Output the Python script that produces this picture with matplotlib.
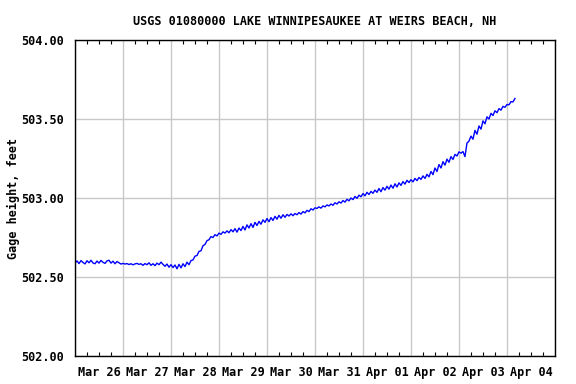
import numpy as np
import pandas as pd
import matplotlib
matplotlib.use("Agg")
import matplotlib.pyplot as plt
import matplotlib.dates as mdates
from matplotlib.ticker import FuncFormatter, MultipleLocator

# 1時間ごとのゲージ高さ (feet), Mar 26 00:00 から
mar26 = [502.588, 502.602, 502.585, 502.604, 502.592, 502.583, 502.603, 502.590,
         502.606, 502.589, 502.584, 502.601, 502.588, 502.605, 502.593, 502.586,
         502.602, 502.606, 502.588, 502.600, 502.584, 502.598, 502.590, 502.582]
mar27 = [502.586, 502.582, 502.585, 502.579, 502.584, 502.577, 502.583, 502.586,
         502.580, 502.584, 502.574, 502.585, 502.578, 502.590, 502.574, 502.584,
         502.572, 502.588, 502.578, 502.594, 502.580, 502.568, 502.582, 502.562]
mar28 = [502.578, 502.560, 502.576, 502.552, 502.580, 502.558, 502.584, 502.566,
         502.594, 502.578, 502.604, 502.608, 502.632, 502.636, 502.662, 502.666,
         502.698, 502.706, 502.730, 502.736, 502.756, 502.750, 502.768, 502.760]
mar29 = [502.778, 502.770, 502.786, 502.778, 502.792, 502.780, 502.800, 502.786,
         502.806, 502.784, 502.810, 502.794, 502.820, 502.798, 502.830, 502.810,
         502.838, 502.814, 502.846, 502.826, 502.852, 502.834, 502.862, 502.846]
mar30 = [502.870, 502.850, 502.876, 502.858, 502.884, 502.866, 502.890, 502.872,
         502.894, 502.878, 502.896, 502.886, 502.900, 502.888, 502.902, 502.894,
         502.908, 502.898, 502.914, 502.906, 502.922, 502.914, 502.932, 502.924]
mar31 = [502.938, 502.934, 502.944, 502.936, 502.950, 502.944, 502.956, 502.950,
         502.962, 502.954, 502.970, 502.962, 502.976, 502.968, 502.984, 502.974,
         502.992, 502.982, 503.000, 502.990, 503.010, 502.998, 503.018, 503.008]
apr01 = [503.028, 503.014, 503.036, 503.022, 503.042, 503.030, 503.050, 503.036,
         503.060, 503.040, 503.066, 503.050, 503.074, 503.056, 503.082, 503.062,
         503.090, 503.070, 503.096, 503.080, 503.104, 503.088, 503.112, 503.098]
apr02 = [503.116, 503.102, 503.124, 503.110, 503.130, 503.118, 503.140, 503.124,
         503.150, 503.134, 503.168, 503.148, 503.190, 503.168, 503.212, 503.190,
         503.230, 503.208, 503.246, 503.226, 503.262, 503.244, 503.276, 503.266]
apr03 = [503.292, 503.284, 503.294, 503.262, 503.348, 503.360, 503.392, 503.372,
         503.428, 503.404, 503.456, 503.436, 503.488, 503.470, 503.514, 503.500,
         503.536, 503.522, 503.552, 503.540, 503.566, 503.556, 503.580, 503.574]
apr04 = [503.592, 503.590, 503.610, 503.608, 503.630]

heights = mar26 + mar27 + mar28 + mar29 + mar30 + mar31 + apr01 + apr02 + apr03 + apr04
times = pd.date_range("2024-03-26 00:00", periods=len(heights), freq="h")

title = "USGS 01080000 LAKE WINNIPESAUKEE AT WEIRS BEACH, NH"
ylabel = "Gage height, feet"

font = {"family": "DejaVu Sans Mono", "weight": "bold", "size": 8.5}

fig = plt.figure(figsize=(5.76, 3.84), dpi=100)
ax = fig.add_axes([0.1302, 0.0729, 0.8333, 0.8229])

ax.plot(times, heights, color="#0000ff", lw=1.0)

x0 = pd.Timestamp("2024-03-26")
ax.set_xlim(x0, x0 + pd.Timedelta(days=10))
ax.set_ylim(502.0, 504.0)

# 日付の区切り(0時)にグリッド、6時間ごとの目盛、ラベルは正午
ax.xaxis.set_major_locator(mdates.DayLocator())
ax.xaxis.set_major_formatter(FuncFormatter(lambda v, p: ""))
ax.xaxis.set_minor_locator(mdates.HourLocator(byhour=[0, 6, 12, 18]))


def noon_label(v, pos):
    d = mdates.num2date(v)
    if d.hour == 12:
        return d.strftime("%b %d")
    return ""


ax.xaxis.set_minor_formatter(FuncFormatter(noon_label))
ax.tick_params(axis="x", which="major", length=0)
ax.tick_params(axis="x", which="minor", direction="in", length=3, width=0.8,
               top=True, bottom=True, pad=7, colors="black")

ax.yaxis.set_major_locator(MultipleLocator(0.5))
ax.yaxis.set_major_formatter(FuncFormatter(lambda v, p: f"{v:.2f}"))
ax.tick_params(axis="y", which="major", length=0, pad=8)

for lab in ax.get_xticklabels(minor=True) + ax.get_yticklabels():
    lab.set_fontfamily(font["family"])
    lab.set_fontweight(font["weight"])
    lab.set_fontsize(font["size"])

ax.grid(True, which="major", color="#c8c8c8", lw=1.0)
ax.set_axisbelow(True)
for s in ax.spines.values():
    s.set_color("black")
    s.set_linewidth(1.0)

ax.set_title(title, fontdict=font, pad=11)
ax.set_ylabel(ylabel, fontdict=font)
ax.yaxis.set_label_coords(-0.115, 0.5)

fig.savefig("out.png", dpi=100)
